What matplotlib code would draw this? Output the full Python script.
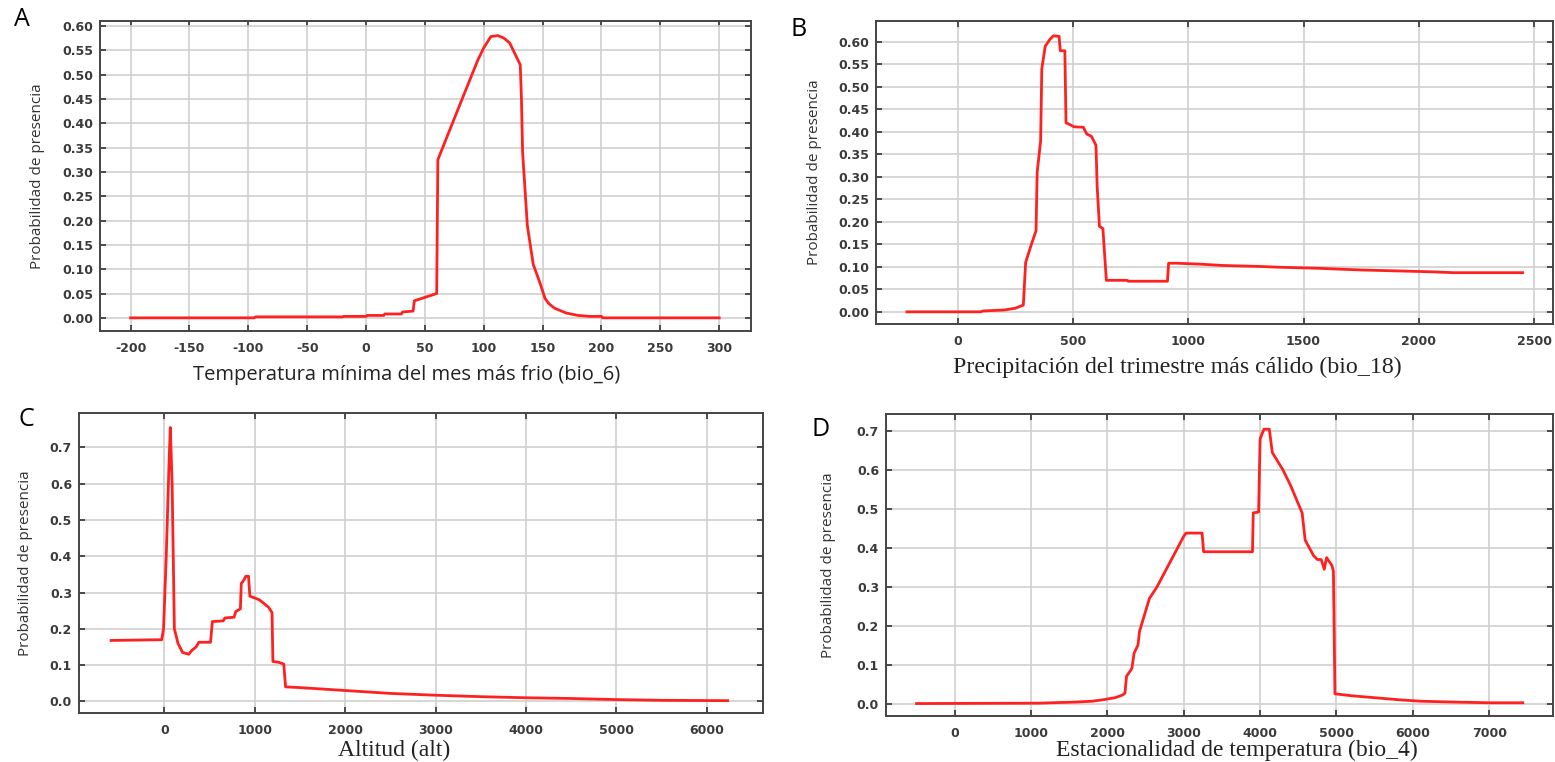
import matplotlib.pyplot as plt
import numpy as np
from matplotlib.ticker import FormatStrFormatter

plt.rcParams['axes.unicode_minus'] = False

# --- data (x, probability) ---
bio6_x = [-200, -95, -94, -20, -19, 0, 1, 15, 16, 30, 31, 40, 41, 60, 61, 80, 95,
          100, 106, 112, 117, 122, 128, 131, 132, 133, 137, 142, 148, 152, 155,
          160, 170, 180, 190, 200, 201, 300]
bio6_y = [0.0, 0.0, 0.002, 0.002, 0.003, 0.003, 0.005, 0.005, 0.008, 0.008, 0.012,
          0.014, 0.035, 0.05, 0.325, 0.44, 0.53, 0.555, 0.578, 0.58, 0.575, 0.565,
          0.535, 0.52, 0.45, 0.34, 0.19, 0.11, 0.07, 0.04, 0.03, 0.02, 0.01, 0.005,
          0.003, 0.003, 0.0, 0.0]

bio18_x = [-220, 100, 110, 200, 250, 285, 295, 320, 340, 345, 360, 365, 380, 400,
           415, 440, 445, 465, 470, 490, 505, 545, 560, 580, 590, 600, 605, 615,
           630, 645, 735, 740, 910, 915, 950, 1050, 1150, 1300, 1400, 1550, 1650,
           1750, 1900, 2050, 2150, 2450]
bio18_y = [0.0, 0.0, 0.002, 0.004, 0.008, 0.015, 0.11, 0.15, 0.18, 0.31, 0.38, 0.54,
           0.59, 0.605, 0.613, 0.612, 0.58, 0.58, 0.42, 0.415, 0.411, 0.41, 0.395,
           0.39, 0.38, 0.37, 0.28, 0.19, 0.185, 0.07, 0.07, 0.068, 0.068, 0.108,
           0.108, 0.106, 0.103, 0.101, 0.099, 0.097, 0.095, 0.093, 0.091, 0.089,
           0.087, 0.087]

alt_x = [-590, -30, -10, 20, 50, 65, 85, 110, 150, 200, 270, 300, 350, 380, 510,
         530, 650, 670, 770, 790, 840, 850, 880, 900, 930, 945, 1000, 1050, 1100,
         1150, 1190, 1200, 1260, 1320, 1340, 1500, 2000, 2500, 3000, 3500, 4000,
         4500, 5000, 5500, 6230]
alt_y = [0.168, 0.17, 0.2, 0.4, 0.65, 0.755, 0.6, 0.2, 0.16, 0.135, 0.13, 0.14,
         0.15, 0.163, 0.163, 0.22, 0.222, 0.23, 0.232, 0.248, 0.255, 0.325, 0.335,
         0.345, 0.345, 0.29, 0.285, 0.28, 0.27, 0.26, 0.245, 0.11, 0.108, 0.103,
         0.04, 0.038, 0.03, 0.022, 0.017, 0.013, 0.01, 0.008, 0.005, 0.003, 0.002]

bio4_x = [-500, 1100, 1600, 1800, 1950, 2100, 2200, 2230, 2250, 2320, 2350, 2400,
          2420, 2550, 2650, 3000, 3030, 3240, 3260, 3900, 3910, 3980, 4000, 4050,
          4120, 4160, 4300, 4400, 4550, 4590, 4700, 4750, 4800, 4840, 4870, 4940,
          4960, 4980, 5200, 5500, 5800, 6100, 6500, 7000, 7440]
bio4_y = [0.0, 0.001, 0.004, 0.006, 0.01, 0.015, 0.022, 0.027, 0.07, 0.09, 0.13,
          0.15, 0.185, 0.27, 0.30, 0.43, 0.438, 0.438, 0.39, 0.39, 0.49, 0.492,
          0.68, 0.705, 0.705, 0.645, 0.6, 0.56, 0.49, 0.42, 0.38, 0.37, 0.37, 0.345,
          0.375, 0.355, 0.34, 0.025, 0.02, 0.015, 0.01, 0.006, 0.004, 0.002, 0.002]

W, H = 1555, 762
fig = plt.figure(figsize=(W / 100, H / 100), dpi=100)

panels = [
    # letter, x, y, axes px (l, t, r, b), xlim, ylim, xticks, yticks, fmt,
    # xlabel, font, size, xlabel centre px, ylabel x px, letter px
    ("A", bio6_x, bio6_y, (100, 21, 751, 331), (-226, 327), (-0.027, 0.61),
     np.arange(-200, 301, 50), np.arange(0, 0.61, 0.05), "%.2f",
     "Temperatura mínima del mes más frio (bio_6)", "Open Sans", 14.5,
     (407, 375), 38, (22, 20)),
    ("B", bio18_x, bio18_y, (876, 21, 1553, 324), (-354, 2582), (-0.027, 0.646),
     np.arange(0, 2501, 500), np.arange(0, 0.61, 0.05), "%.2f",
     "Precipitación del trimestre más cálido (bio_18)", "Liberation Serif", 17.2,
     (1177, 367), 815, (799, 29)),
    ("C", alt_x, alt_y, (79, 413, 763, 713), (-945, 6621), (-0.032, 0.795),
     np.arange(0, 6001, 1000), np.arange(0, 0.71, 0.1), "%.1f",
     "Altitud (alt)", "Liberation Serif", 17,
     (394, 750), 25, (26, 419)),
    ("D", bio4_x, bio4_y, (886, 414, 1553, 716), (-900, 7836), (-0.032, 0.744),
     np.arange(0, 7001, 1000), np.arange(0, 0.71, 0.1), "%.1f",
     "Estacionalidad de temperatura (bio_4)", "Liberation Serif", 17,
     (1237, 750), 828, (821, 429)),
]

for (letter, xs, ys, px, xl, yl, xt, yt, fmt, xlab, xfont, xsize,
     xlpos, ylx, lpos) in panels:
    l, t, r, b = px
    ax = fig.add_axes([l / W, 1 - b / H, (r - l) / W, (b - t) / H])
    ax.plot(xs, ys, color="#ff2020", lw=2)
    ax.set_xlim(*xl)
    ax.set_ylim(*yl)
    ax.set_xticks(xt)
    ax.set_yticks(yt)
    ax.yaxis.set_major_formatter(FormatStrFormatter(fmt))
    ax.grid(True, color="#d0d0d0", lw=1.2)
    ax.set_axisbelow(True)
    ax.tick_params(direction="in", length=4, width=1.2, color="#333333",
                   top=True, right=True, labelsize=9, labelcolor="#3a3a3a")
    ax.tick_params(axis="y", pad=5)
    ax.tick_params(axis="x", pad=8)
    for lab in ax.get_xticklabels() + ax.get_yticklabels():
        lab.set_fontweight("bold")
        lab.set_family("DejaVu Sans")
    for s in ax.spines.values():
        s.set_color("#444444")
        s.set_linewidth(1.4)
    ax.set_ylabel("Probabilidad de presencia", fontsize=11, family="Open Sans",
                  color="#333333", va="center")
    ax.yaxis.set_label_coords((ylx - l) / (r - l), 0.5)
    ax.set_xlabel(xlab, fontsize=xsize, family=xfont, color="#222222", va="center")
    ax.xaxis.set_label_coords((xlpos[0] - l) / (r - l), (b - xlpos[1]) / (b - t))
    fig.text(lpos[0] / W, 1 - lpos[1] / H, letter, fontsize=18, family="Open Sans",
             va="center", ha="center")

fig.savefig("out.png", dpi=100, facecolor="white")
